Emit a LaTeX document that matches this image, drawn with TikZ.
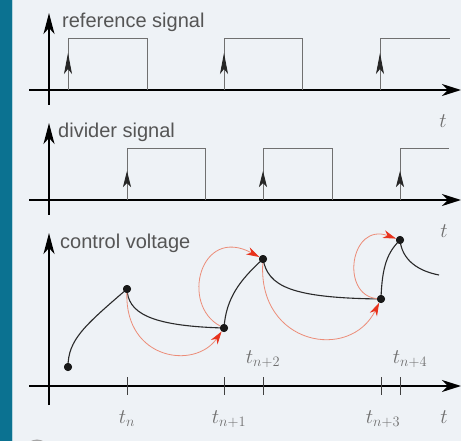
\documentclass[tikz,border=0pt]{standalone}
\usepackage{fontspec}
\newfontfamily\labelfont{Liberation Sans}
\usetikzlibrary{arrows.meta}
\definecolor{bgc}{HTML}{EEF2F6}
\definecolor{barc}{HTML}{0B7291}
\definecolor{arcc}{HTML}{EC8C78}
\definecolor{tipc}{HTML}{E8321C}
\definecolor{txtc}{HTML}{555555}
\definecolor{pulsec}{HTML}{707070}
\definecolor{curvec}{HTML}{2A2A2A}
\tikzset{
  axis/.style={line width=1.6pt, black, -{Stealth[length=19pt,width=12pt,inset=6pt]}},
  yaxis/.style={line width=1.6pt, black, -{Stealth[length=21pt,width=11pt,inset=6pt]}},
  pulse/.style={line width=0.9pt, pulsec},
  edgeA/.style={line width=0.9pt, pulsec, -{Stealth[length=21pt,width=8pt,inset=5pt,color=black!85]}},
  edgeB/.style={line width=0.9pt, pulsec, -{Stealth[length=16pt,width=8pt,inset=4pt,color=black!85]}},
  tick/.style={line width=1pt, black!75},
  dot/.style={circle, fill=black!90, inner sep=0pt, minimum size=8pt},
  vcurve/.style={line width=1.1pt, curvec},
  jump/.style={line width=0.8pt, arcc, -{Stealth[length=13pt,width=8pt,inset=4pt,color=tipc]}},
  sig/.style={font=\labelfont\fontsize{20}{24}\selectfont, text=txtc, inner sep=0pt, anchor=base west},
  tlab/.style={font=\fontsize{20}{24}\selectfont, text=txtc!85, inner sep=0pt, anchor=base}
}
\begin{document}
\begin{tikzpicture}[x=1pt,y=-1pt]
\useasboundingbox (0,0) rectangle (461,441);
\clip (0,0) rectangle (461,441);
\fill[bgc] (0,0) rectangle (461,441);
\fill[barc] (0,0) rectangle (12,441);
\fill[white!70!barc] (12,0) rectangle (13,441);
\draw[line width=3pt, gray!70] (37,452) circle (11);

% ---------- panel 1 : reference signal
\coordinate (y1s) at (49,105); \coordinate (y1e) at (49,13);
\coordinate (x1s) at (29,90);  \coordinate (x1e) at (461,90);
\draw[yaxis] (y1s) -- (y1e);
\draw[axis] (x1s) -- (x1e);
\node[sig] (lab1) at (62,28) {reference signal};
\node[tlab] (t1) at (443,128) {$t$};
\draw[pulse] (68,90) -- (68,38) -- (147,38) -- (147,90);
\draw[pulse] (224,90) -- (224,38) -- (302,38) -- (302,90);
\draw[pulse] (380,90) -- (380,38) -- (450,38);
\foreach \xx/\nm in {68/ra,224/rb,380/rc}{
  \coordinate (\nm0) at (\xx,90); \coordinate (\nm1) at (\xx,53);
  \draw[edgeA] (\nm0) -- (\nm1);
}

% ---------- panel 2 : divider signal
\coordinate (y2s) at (49,215); \coordinate (y2e) at (49,123);
\coordinate (x2s) at (29,200); \coordinate (x2e) at (461,200);
\draw[yaxis] (y2s) -- (y2e);
\draw[axis] (x2s) -- (x2e);
\node[sig] (lab2) at (58,138) {divider signal};
\node[tlab] (t2) at (444,238) {$t$};
\draw[pulse] (127,200) -- (127,148) -- (205,148) -- (205,200);
\draw[pulse] (263,200) -- (263,148) -- (332,148) -- (332,200);
\draw[pulse] (400,200) -- (400,148) -- (449,148);
\foreach \xx/\nm in {127/da,263/db,400/dc}{
  \coordinate (\nm0) at (\xx,200); \coordinate (\nm1) at (\xx,171);
  \draw[edgeB] (\nm0) -- (\nm1);
}

% ---------- panel 3 : control voltage
\coordinate (y3s) at (49,405); \coordinate (y3e) at (49,233);
\coordinate (x3s) at (29,386); \coordinate (x3e) at (461,386);
\draw[yaxis] (y3s) -- (y3e);
\draw[axis] (x3s) -- (x3e);
\node[sig] (lab3) at (60,248) {control voltage};
\node[tlab] (t3) at (444,423) {$t$};

\foreach \xx/\nm in {127/ka,224/kb,263/kc,381/kd,400/ke}{
  \coordinate (\nm0) at (\xx,377); \coordinate (\nm1) at (\xx,395);
  \draw[tick] (\nm0) -- (\nm1);
}
\node[tlab] (tn)  at (127,423) {$t_n$};
\node[tlab] (tn1) at (229,423) {$t_{n+1}$};
\node[tlab] (tn2) at (263,363) {$t_{n+2}$};
\node[tlab] (tn3) at (383,423) {$t_{n+3}$};
\node[tlab] (tn4) at (410,363) {$t_{n+4}$};

% voltage curve
\node[dot] (p0) at (68,367) {};
\node[dot] (p1) at (127,289) {};
\node[dot] (p2) at (224,328) {};
\node[dot] (p3) at (263,259) {};
\node[dot] (p4) at (381,299) {};
\node[dot] (p5) at (400,240) {};
\coordinate (pend) at (439,275);

\draw[vcurve] (p0.center) .. controls (68,340) and (84,326) .. (p1.center);
\draw[vcurve] (p1.center) .. controls (128,312) and (148,326) .. (p2.center);
\draw[vcurve] (p2.center) .. controls (226,298) and (240,280) .. (p3.center);
\draw[vcurve] (p3.center) .. controls (268,286) and (290,298) .. (p4.center);
\draw[vcurve] (p4.center) .. controls (382,265) and (388,252) .. (p5.center);
\draw[vcurve] (p5.center) .. controls (402,260) and (418,271) .. (pend);

% red jumps
\draw[jump] (p1) .. controls (125,360) and (195,370) .. (p2);
\draw[jump] (p2) .. controls (180,305) and (200,225) .. (p3);
\draw[jump] (p3) .. controls (258,345) and (350,362) .. (p4);
\draw[jump] (p4) .. controls (340,295) and (350,222) .. (p5);

\node[dot] at (p0) {};
\node[dot] at (p1) {};
\node[dot] at (p2) {};
\node[dot] at (p3) {};
\node[dot] at (p4) {};
\node[dot] at (p5) {};
\end{tikzpicture}
\end{document}
